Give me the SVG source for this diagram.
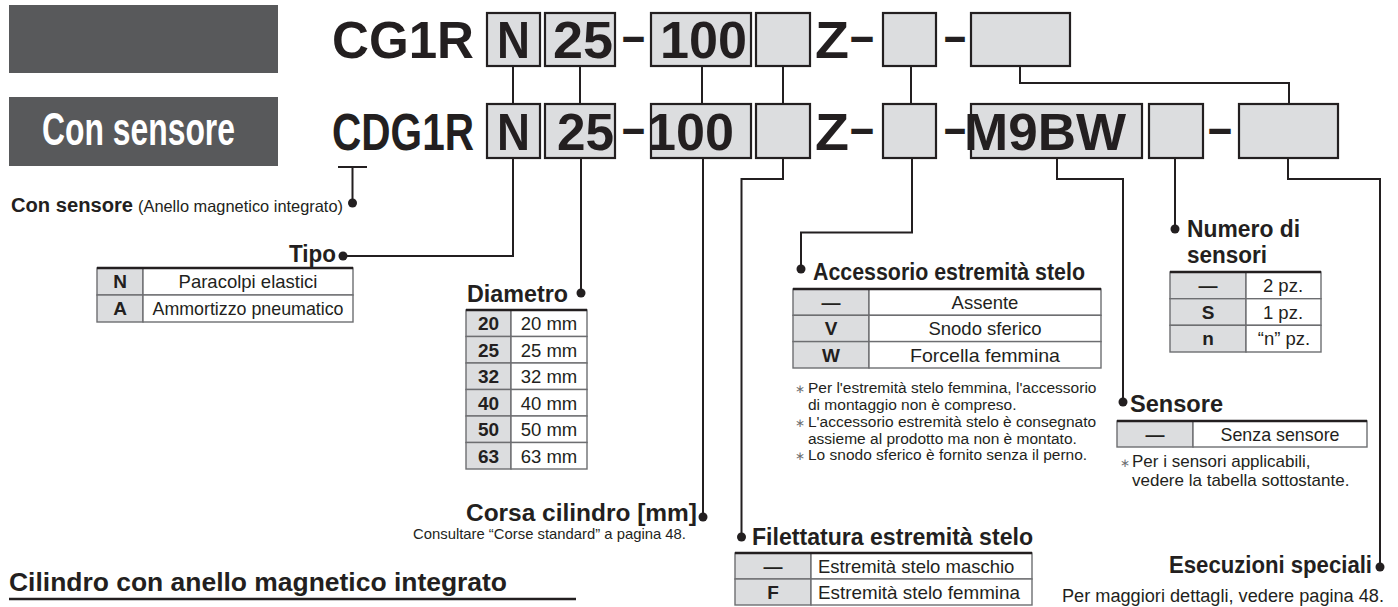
<svg xmlns="http://www.w3.org/2000/svg" width="1398" height="607" viewBox="0 0 1398 607">
<style>
text{font-family:"Liberation Sans",Arial,Helvetica,sans-serif;fill:#231f20}
.big{font-size:51px;font-weight:bold}
.hd{font-size:23px;font-weight:bold}
.tb{font-size:18.5px;text-anchor:middle}
.tbb{font-size:19px;font-weight:bold;text-anchor:middle}
.tl{font-size:18.5px}
.note{font-size:15.5px}
.note2{font-size:17px}
.ast{fill:#6d6e71;font-size:12px}
.box{fill:#dcdddf;stroke:#231f20;stroke-width:2.2}
.cl{fill:#dcdddf;stroke:#6d6e71;stroke-width:1.4}
.cr{fill:#ffffff;stroke:#6d6e71;stroke-width:1.4}
.top{stroke:#231f20;stroke-width:2.6}
.con{fill:none;stroke:#231f20;stroke-width:2}
.dot{fill:#231f20}
.gbox{fill:#58595b}
</style>

<g id="headers">
<rect class="gbox" x="9" y="5" width="269" height="68"/>
<rect class="gbox" x="9" y="97" width="269" height="69"/>
<text x="42" y="145" style="font-size:46px;font-weight:bold;fill:#ffffff" textLength="193" lengthAdjust="spacingAndGlyphs">Con sensore</text>
</g>

<g id="row-top">
<rect class="box" x="487" y="13" width="53" height="53"/>
<rect class="box" x="545" y="13" width="70" height="53"/>
<rect class="box" x="651" y="13" width="100" height="53"/>
<rect class="box" x="756" y="13" width="54" height="53"/>
<rect class="box" x="883" y="13" width="53" height="53"/>
<rect class="box" x="971" y="13" width="99" height="53"/>
<text class="big" x="332" y="58" textLength="142" lengthAdjust="spacingAndGlyphs">CG1R</text>
<text class="big" x="497" y="58" textLength="33" lengthAdjust="spacingAndGlyphs">N</text>
<text class="big" x="553" y="58" textLength="60" lengthAdjust="spacingAndGlyphs">25</text>
<text class="big" x="622" y="53" textLength="23" lengthAdjust="spacingAndGlyphs">–</text>
<text class="big" x="660" y="58" textLength="87" lengthAdjust="spacingAndGlyphs">100</text>
<text class="big" x="815" y="58" textLength="34" lengthAdjust="spacingAndGlyphs">Z</text>
<text class="big" x="850" y="53" textLength="24" lengthAdjust="spacingAndGlyphs">–</text>
<text class="big" x="944" y="53" textLength="22" lengthAdjust="spacingAndGlyphs">–</text>
</g>

<g id="row-bottom">
<rect class="box" x="487" y="104" width="53" height="54"/>
<rect class="box" x="545" y="104" width="70" height="54"/>
<rect class="box" x="651" y="104" width="100" height="54"/>
<rect class="box" x="756" y="104" width="54" height="54"/>
<rect class="box" x="883" y="104" width="53" height="54"/>
<rect class="box" x="971" y="104" width="171" height="54"/>
<rect class="box" x="1149" y="104" width="54" height="54"/>
<rect class="box" x="1239" y="104" width="99" height="54"/>
<text class="big" x="332" y="150" textLength="142" lengthAdjust="spacingAndGlyphs">CDG1R</text>
<text class="big" x="497" y="150" textLength="33" lengthAdjust="spacingAndGlyphs">N</text>
<text class="big" x="557" y="150" textLength="57" lengthAdjust="spacingAndGlyphs">25</text>
<text class="big" x="622" y="145" textLength="23" lengthAdjust="spacingAndGlyphs">–</text>
<text class="big" x="647" y="150" textLength="87" lengthAdjust="spacingAndGlyphs">100</text>
<text class="big" x="815" y="150" textLength="34" lengthAdjust="spacingAndGlyphs">Z</text>
<text class="big" x="850" y="145" textLength="24" lengthAdjust="spacingAndGlyphs">–</text>
<text class="big" x="944" y="145" textLength="22" lengthAdjust="spacingAndGlyphs">–</text>
<text class="big" x="964" y="150" textLength="162" lengthAdjust="spacingAndGlyphs">M9BW</text>
<text class="big" x="1208" y="145" textLength="24" lengthAdjust="spacingAndGlyphs">–</text>
</g>

<g id="connectors">
<path class="con" d="M338,167 H367 M352.5,167 V203"/>
<path class="con" d="M513,66 V104 M513,158 V256 H343"/>
<path class="con" d="M580,66 V104 M581,158 V293"/>
<path class="con" d="M702,66 V104 M703,158 V517"/>
<path class="con" d="M783,66 V104 M783,158 V179 H741.5 V537"/>
<path class="con" d="M911,66 V104 M912,158 V232.5 H801 V269"/>
<path class="con" d="M1020,66 V83 H1289 V104"/>
<path class="con" d="M1057,158 V179 H1123 V402"/>
<path class="con" d="M1175,158 V229"/>
<path class="con" d="M1288,158 V179 H1380 V567"/>
<circle class="dot" cx="352.5" cy="203" r="4.5"/>
<circle class="dot" cx="343" cy="256" r="4.5"/>
<circle class="dot" cx="581" cy="293" r="4.5"/>
<circle class="dot" cx="703" cy="517" r="4.5"/>
<circle class="dot" cx="741.5" cy="537" r="4.5"/>
<circle class="dot" cx="801" cy="269" r="4.5"/>
<circle class="dot" cx="1123" cy="402" r="4.5"/>
<circle class="dot" cx="1175" cy="229" r="4.5"/>
<circle class="dot" cx="1380" cy="567" r="4.5"/>
</g>

<g id="con-sensore">
<text x="11" y="212" style="font-size:20px;font-weight:bold" textLength="122" lengthAdjust="spacingAndGlyphs">Con sensore</text>
<text x="138" y="212" style="font-size:16.5px" textLength="205" lengthAdjust="spacingAndGlyphs">(Anello magnetico integrato)</text>
</g>

<g id="tipo">
<text class="hd" x="289" y="262" textLength="47" lengthAdjust="spacingAndGlyphs">Tipo</text>
<rect class="cl" x="97" y="268" width="46" height="27"/>
<rect class="cr" x="143" y="268" width="210" height="27"/>
<rect class="cl" x="97" y="295" width="46" height="27"/>
<rect class="cr" x="143" y="295" width="210" height="27"/>
<line class="top" x1="97" y1="268" x2="353" y2="268"/>
<text class="tbb" x="120" y="288">N</text>
<text class="tb" x="248" y="288">Paracolpi elastici</text>
<text class="tbb" x="120" y="315">A</text>
<text class="tb" x="248" y="315" textLength="191" lengthAdjust="spacingAndGlyphs">Ammortizzo pneumatico</text>
</g>

<g id="diametro">
<text class="hd" x="467" y="302" textLength="101" lengthAdjust="spacingAndGlyphs">Diametro</text>
<rect class="cl" x="466" y="310" width="45" height="26.5"/><rect class="cr" x="511" y="310" width="76" height="26.5"/>
<rect class="cl" x="466" y="336.5" width="45" height="26.5"/><rect class="cr" x="511" y="336.5" width="76" height="26.5"/>
<rect class="cl" x="466" y="363" width="45" height="26.5"/><rect class="cr" x="511" y="363" width="76" height="26.5"/>
<rect class="cl" x="466" y="389.5" width="45" height="26.5"/><rect class="cr" x="511" y="389.5" width="76" height="26.5"/>
<rect class="cl" x="466" y="416" width="45" height="26.5"/><rect class="cr" x="511" y="416" width="76" height="26.5"/>
<rect class="cl" x="466" y="442.5" width="45" height="26.5"/><rect class="cr" x="511" y="442.5" width="76" height="26.5"/>
<line class="top" x1="466" y1="310" x2="587" y2="310"/>
<text class="tbb" x="488.5" y="330">20</text><text class="tb" x="549" y="330">20 mm</text>
<text class="tbb" x="488.5" y="356.5">25</text><text class="tb" x="549" y="356.5">25 mm</text>
<text class="tbb" x="488.5" y="383">32</text><text class="tb" x="549" y="383">32 mm</text>
<text class="tbb" x="488.5" y="409.5">40</text><text class="tb" x="549" y="409.5">40 mm</text>
<text class="tbb" x="488.5" y="436">50</text><text class="tb" x="549" y="436">50 mm</text>
<text class="tbb" x="488.5" y="462.5">63</text><text class="tb" x="549" y="462.5">63 mm</text>
</g>

<g id="corsa">
<text class="hd" x="466" y="521" textLength="231" lengthAdjust="spacingAndGlyphs">Corsa cilindro [mm]</text>
<text x="413" y="539" style="font-size:15px" textLength="273" lengthAdjust="spacingAndGlyphs">Consultare “Corse standard” a pagina 48.</text>
</g>

<g id="accessorio">
<text class="hd" x="813" y="280" textLength="272" lengthAdjust="spacingAndGlyphs">Accessorio estremità stelo</text>
<rect class="cl" x="793" y="289" width="76" height="26.3"/><rect class="cr" x="869" y="289" width="232" height="26.3"/>
<rect class="cl" x="793" y="315.3" width="76" height="26.3"/><rect class="cr" x="869" y="315.3" width="232" height="26.3"/>
<rect class="cl" x="793" y="341.6" width="76" height="26.4"/><rect class="cr" x="869" y="341.6" width="232" height="26.4"/>
<line class="top" x1="793" y1="289" x2="1101" y2="289"/>
<text class="tbb" x="831" y="309">—</text><text class="tb" x="985" y="309">Assente</text>
<text class="tbb" x="831" y="335.3">V</text><text class="tb" x="985" y="335.3">Snodo sferico</text>
<text class="tbb" x="831" y="361.6">W</text><text class="tb" x="985" y="361.6" textLength="150" lengthAdjust="spacingAndGlyphs">Forcella femmina</text>
<text class="note" x="795" y="393"><tspan class="ast">∗</tspan><tspan x="808">Per l'estremità stelo femmina, l'accessorio</tspan></text>
<text class="note" x="808" y="410">di montaggio non è compreso.</text>
<text class="note" x="795" y="427"><tspan class="ast">∗</tspan><tspan x="808">L'accessorio estremità stelo è consegnato</tspan></text>
<text class="note" x="808" y="444">assieme al prodotto ma non è montato.</text>
<text class="note" x="795" y="460"><tspan class="ast">∗</tspan><tspan x="808">Lo snodo sferico è fornito senza il perno.</tspan></text>
</g>

<g id="filettatura">
<text class="hd" x="752" y="545" textLength="281" lengthAdjust="spacingAndGlyphs">Filettatura estremità stelo</text>
<rect class="cl" x="735" y="553" width="76" height="26"/><rect class="cr" x="811" y="553" width="221" height="26"/>
<rect class="cl" x="735" y="579" width="76" height="26"/><rect class="cr" x="811" y="579" width="221" height="26"/>
<line class="top" x1="735" y1="553" x2="1032" y2="553"/>
<text class="tbb" x="773" y="572.5">—</text><text class="tl" x="818" y="572.5">Estremità stelo maschio</text>
<text class="tbb" x="773" y="598.5">F</text><text class="tl" x="818" y="598.5" textLength="202" lengthAdjust="spacingAndGlyphs">Estremità stelo femmina</text>
</g>

<g id="numero">
<text class="hd" x="1187" y="237" textLength="113" lengthAdjust="spacingAndGlyphs">Numero di</text>
<text class="hd" x="1187" y="263" textLength="80" lengthAdjust="spacingAndGlyphs">sensori</text>
<rect class="cl" x="1170" y="272" width="76" height="26.7"/><rect class="cr" x="1246" y="272" width="75" height="26.7"/>
<rect class="cl" x="1170" y="298.7" width="76" height="26.6"/><rect class="cr" x="1246" y="298.7" width="75" height="26.6"/>
<rect class="cl" x="1170" y="325.3" width="76" height="26.7"/><rect class="cr" x="1246" y="325.3" width="75" height="26.7"/>
<line class="top" x1="1170" y1="272" x2="1321" y2="272"/>
<text class="tbb" x="1208" y="292">—</text><text class="tb" x="1283" y="292">2 pz.</text>
<text class="tbb" x="1208" y="318.7">S</text><text class="tb" x="1283" y="318.7">1 pz.</text>
<text class="tbb" x="1208" y="345.3">n</text><text class="tb" x="1284" y="345.3">“n” pz.</text>
</g>

<g id="sensore">
<text class="hd" x="1130" y="412" textLength="93" lengthAdjust="spacingAndGlyphs">Sensore</text>
<rect class="cl" x="1117" y="421" width="76" height="26"/><rect class="cr" x="1193" y="421" width="174" height="26"/>
<line class="top" x1="1117" y1="421" x2="1367" y2="421"/>
<text class="tbb" x="1155" y="440.5">—</text><text class="tb" x="1280" y="440.5" textLength="119" lengthAdjust="spacingAndGlyphs">Senza sensore</text>
<text class="note2" x="1120" y="467"><tspan class="ast">∗</tspan><tspan x="1132">Per i sensori applicabili,</tspan></text>
<text class="note2" x="1132" y="486">vedere la tabella sottostante.</text>
</g>

<g id="esecuzioni">
<text class="hd" x="1169" y="573" textLength="203" lengthAdjust="spacingAndGlyphs">Esecuzioni speciali</text>
<text x="1062" y="602" style="font-size:18px" textLength="322" lengthAdjust="spacingAndGlyphs">Per maggiori dettagli, vedere pagina 48.</text>
</g>

<g id="titolo">
<text x="9" y="591" style="font-size:25px;font-weight:bold" textLength="498" lengthAdjust="spacingAndGlyphs">Cilindro con anello magnetico integrato</text>
<line x1="9" y1="599" x2="576" y2="599" style="stroke:#231f20;stroke-width:2.5"/>
</g>
</svg>
